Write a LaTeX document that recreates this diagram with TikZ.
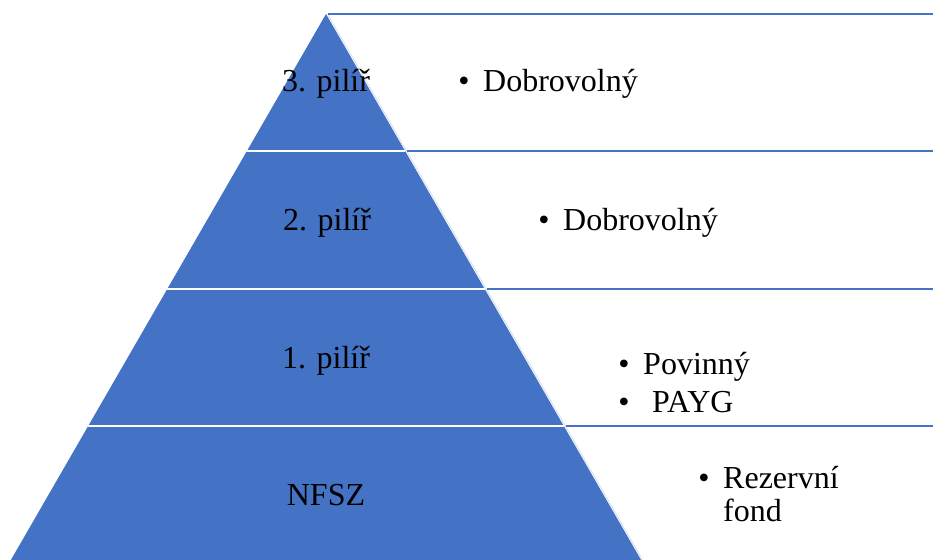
\documentclass[tikz,border=0pt]{standalone}
\usepackage{fontspec}
\setmainfont{Liberation Serif}
\definecolor{pyrblue}{HTML}{4472C4}
\definecolor{edgeblue}{HTML}{C7D5EE}
\begin{document}
\begin{tikzpicture}[x=1pt,y=-1pt,
  layer/.style={fill=pyrblue, draw=white, line width=1.5pt, line join=miter},
  sep/.style={draw=pyrblue, line width=2pt},
  txt/.style={inner sep=0pt, font=\fontsize{32}{33}\selectfont, text=black},
  bul/.style={inner sep=0pt, font=\fontsize{32}{33}\selectfont, text=black}]
\useasboundingbox (0,0) rectangle (933,559);
% coordinates of pyramid edges
\coordinate (apex) at (326,14);
\coordinate (l1) at (246.9,151); \coordinate (r1) at (405.1,151);
\coordinate (l2) at (167.3,289); \coordinate (r2) at (484.7,289);
\coordinate (l3) at (88.2,426);  \coordinate (r3) at (563.8,426);
\coordinate (l4) at (7.4,566);   \coordinate (r4) at (644.6,566);
% layers
\begin{scope}
\clip (0,0) rectangle (933,559);
\fill[pyrblue] (apex) -- (l4) -- (r4) -- cycle;
\draw[white, line width=2.5pt] (l1) -- (r1);
\draw[white, line width=2.5pt] (l2) -- (r2);
\draw[white, line width=2.5pt] (l3) -- (r3);
\draw[edgeblue, line width=0.6pt] ([xshift=1.5pt]apex) -- ([xshift=1.5pt]r4);
\end{scope}
% separator lines on the right
\coordinate (e0) at (933,14);
\coordinate (e1) at (933,151);
\coordinate (e2) at (933,289);
\coordinate (e3) at (933,426);
\draw[sep] ([xshift=2pt]apex) -- (e0);
\draw[sep] ([xshift=2pt]r1) -- (e1);
\draw[sep] ([xshift=2pt]r2) -- (e2);
\draw[sep] ([xshift=2pt]r3) -- (e3);
% pyramid labels
\node[txt, anchor=base] (p3) at (326,92) {3. pilíř};
\node[txt, anchor=base] (p2) at (327,230) {2. pilíř};
\node[txt, anchor=base] (p1) at (326,368) {1. pilíř};
\node[txt, anchor=base] (p0) at (326,505) {NFSZ};
% right-hand lists
\node[bul, anchor=base] (b3) at (464,92) {\textbullet};
\node[txt, anchor=base west] (t3) at (483,92) {Dobrovolný};
\node[bul, anchor=base] (b2) at (544,230) {\textbullet};
\node[txt, anchor=base west] (t2) at (563,230) {Dobrovolný};
\node[bul, anchor=base] (b1a) at (624,374) {\textbullet};
\node[txt, anchor=base west] (t1a) at (643,374) {Povinný};
\node[bul, anchor=base] (b1b) at (624,412) {\textbullet};
\node[txt, anchor=base west] (t1b) at (652,412) {PAYG};
\node[bul, anchor=base] (b0) at (704,488) {\textbullet};
\node[txt, anchor=base west] (t0a) at (723,488) {Rezervní};
\node[txt, anchor=base west] (t0b) at (723,521) {fond};
\end{tikzpicture}
\end{document}
